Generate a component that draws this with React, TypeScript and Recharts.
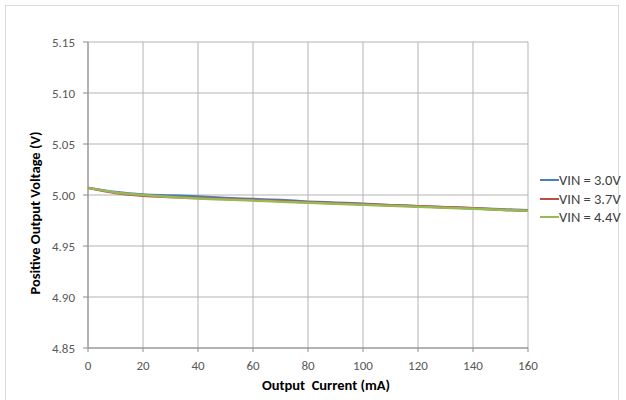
import React from "react";
import { CartesianGrid, Line, LineChart, XAxis, YAxis } from "recharts";

const currents = [0, 10, 20, 30, 40, 50, 60, 70, 80, 90, 100, 110, 120, 130, 140, 150, 160];
const vin30 = [5.007, 5.003, 5.0005, 4.9995, 4.9985, 4.997, 4.996, 4.995, 4.9935, 4.9925, 4.9915, 4.990, 4.989, 4.988, 4.987, 4.986, 4.985];
const vin37 = [5.007, 5.002, 4.9993, 4.998, 4.997, 4.996, 4.995, 4.994, 4.993, 4.992, 4.991, 4.990, 4.989, 4.988, 4.987, 4.9855, 4.9845];
const vin44 = [5.007, 5.0025, 5.0, 4.998, 4.9965, 4.9955, 4.9945, 4.9935, 4.9925, 4.9915, 4.9905, 4.9895, 4.9885, 4.9875, 4.9865, 4.9855, 4.9845];
const xTicks = [0, 20, 40, 60, 80, 100, 120, 140, 160];
const yTicks = [4.85, 4.9, 4.95, 5.0, 5.05, 5.1, 5.15];

const SERIES = [
  { key: "v30", name: "VIN = 3.0V", color: "#4a7ebb" },
  { key: "v37", name: "VIN = 3.7V", color: "#be4b48" },
  { key: "v44", name: "VIN = 4.4V", color: "#98b954" },
];

const rows = currents.map((c, i) => ({
  current: c,
  v30: vin30[i],
  v37: vin37[i],
  v44: vin44[i],
}));

const FONT = "Carlito, 'Liberation Sans', Arial, sans-serif";

export default function App() {
  return (
    <div style={{ position: "absolute", left: 0, top: 0, width: 626, height: 400, background: "#fff", overflow: "hidden" }}>
      <div
        style={{
          position: "absolute",
          left: 5,
          top: 5,
          width: 614,
          height: 420,
          border: "1px solid #d9d9d9",
          boxSizing: "border-box",
        }}
      />
      <LineChart
        width={626}
        height={400}
        data={rows}
        margin={{ top: 42, right: 98, left: 0, bottom: 0 }}
        style={{ position: "absolute", left: 0, top: 0 }}
      >
        <CartesianGrid stroke="#b3b3b3" strokeWidth={1} />
        <XAxis
          dataKey="current"
          type="number"
          domain={[0, 160]}
          ticks={xTicks}
          height={52}
          tickSize={4}
          tickMargin={9}
          stroke="#8c8c8c"
          tick={{ fill: "#595959", fontSize: 13, fontFamily: FONT }}
        />
        <YAxis
          type="number"
          domain={[4.85, 5.15]}
          ticks={yTicks}
          width={88}
          tickSize={5}
          tickMargin={8}
          stroke="#8c8c8c"
          tickFormatter={(v: number) => v.toFixed(2)}
          tick={{ fill: "#595959", fontSize: 13, fontFamily: FONT }}
        />
        {SERIES.map((s) => (
          <Line
            key={s.key}
            dataKey={s.key}
            name={s.name}
            stroke={s.color}
            strokeWidth={2.5}
            dot={false}
            type="monotone"
            isAnimationActive={false}
          />
        ))}
      </LineChart>
      <svg width={626} height={400} style={{ position: "absolute", left: 0, top: 0, pointerEvents: "none" }}>
        <text x={326} y={390} textAnchor="middle" fontFamily={FONT} fontSize={14.5} fontWeight="bold" fill="#000">
          Output{"\u00a0"} Current (mA)
        </text>
        <text
          transform="translate(40,213) rotate(-90)"
          textAnchor="middle"
          fontFamily={FONT}
          fontSize={14.5}
          fontWeight="bold"
          fill="#000"
        >
          Positive Output Voltage (V)
        </text>
      </svg>
      <div
        style={{
          position: "absolute",
          left: 540,
          top: 171,
          fontFamily: FONT,
          fontSize: 14.5,
          color: "#404040",
        }}
      >
        {SERIES.map((s) => (
          <div key={s.key} style={{ display: "flex", alignItems: "center", height: 18.5, whiteSpace: "nowrap" }}>
            <span style={{ width: 19, height: 2, background: s.color, display: "inline-block" }} />
            <span>{s.name}</span>
          </div>
        ))}
      </div>
    </div>
  );
}
